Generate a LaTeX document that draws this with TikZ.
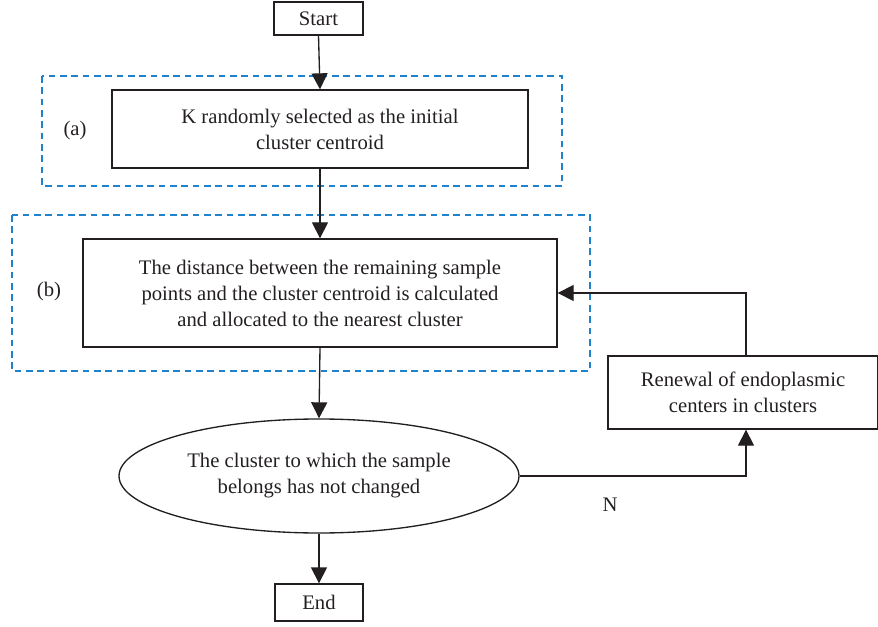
\documentclass[tikz,border=0pt]{standalone}
\usepackage{fontspec}
\setmainfont{Liberation Serif}
\usetikzlibrary{arrows.meta,shapes.geometric}
\definecolor{dashblue}{RGB}{30,130,205}
\definecolor{ink}{RGB}{35,31,32}
\begin{document}
\begin{tikzpicture}[x=0.75pt,y=-0.75pt,
  box/.style={draw=ink,line width=1pt,rectangle,align=center,inner sep=0pt,font=\fontsize{15.5}{19.5}\selectfont,text=ink},
  grp/.style={draw=dashblue,line width=0.9pt,dash pattern=on 5pt off 3.5pt},
  conn/.style={draw=ink,line width=1pt,-{Triangle[length=12pt,width=12pt]}},
  lbl/.style={font=\fontsize{15.5}{18}\selectfont,text=ink}]
\useasboundingbox (0,0) rectangle (878,627);
% groups
\draw[grp] (42,76) rectangle (562,186);
\draw[grp] (12,215) rectangle (590,371);
% nodes
\node[box,minimum width=89*0.75pt,minimum height=33*0.75pt] (start) at (318.5,18.5) {Start};
\node[box,minimum width=416*0.75pt,minimum height=78*0.75pt] (k) at (320,129) {K randomly selected as the initial\\cluster centroid};
\node[box,minimum width=474*0.75pt,minimum height=108*0.75pt] (b) at (320,293) {The distance between the remaining sample\\points and the cluster centroid is calculated\\and allocated to the nearest cluster};
\node[box,ellipse,minimum width=400*0.75pt,minimum height=114*0.75pt] (e) at (319,476) {The cluster to which the sample\\belongs has not changed};
\node[box,minimum width=88*0.75pt,minimum height=37*0.75pt] (end) at (319,602.5) {End};
\node[box,minimum width=270*0.75pt,minimum height=73*0.75pt] (r) at (743,392.5) {Renewal of endoplasmic\\centers in clusters};
\node[lbl] (la) at (75,131) {(a)};
\node[lbl] (lb) at (49,292) {(b)};
\node[lbl] (n) at (610,505) {N};
\coordinate (c1) at (746,476);
\coordinate (c2) at (746,293);
% connectors
\draw[conn] (start.south) -- (k.north);
\draw[conn] (k.south) -- (b.north);
\draw[conn] (b.south) -- (e.north);
\draw[conn] (e.south) -- (end.north);
\draw[conn] (e.east) -- (c1) -- (c1 |- r.south);
\draw[conn] (c2 |- r.north) -- (c2) -- (b.east |- c2);
\end{tikzpicture}
\end{document}
